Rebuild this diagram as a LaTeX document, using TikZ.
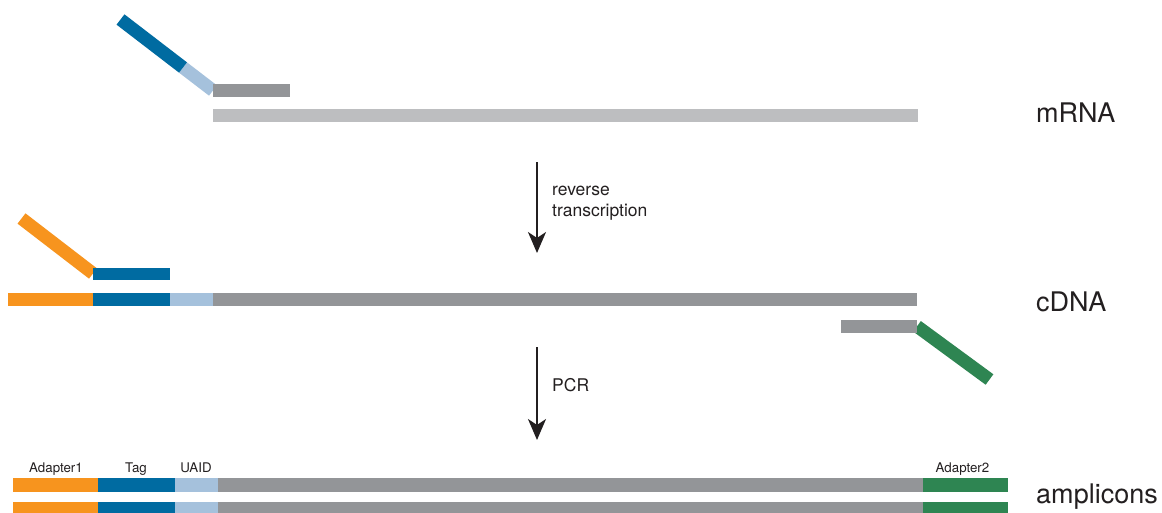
\documentclass[tikz,border=0pt]{standalone}
\usepackage{fontspec}
\setmainfont{TeX Gyre Heros}
\usetikzlibrary{arrows.meta}
\definecolor{cdblue}{HTML}{006BA1}
\definecolor{clblue}{HTML}{A5C1DC}
\definecolor{cgray}{HTML}{939598}
\definecolor{clgray}{HTML}{BDBEC0}
\definecolor{corange}{HTML}{F7941E}
\definecolor{cgreen}{HTML}{2E8552}
\definecolor{ctext}{HTML}{231F20}
\tikzset{
  bigl/.style={anchor=base west, inner sep=0pt, text=ctext, font=\fontsize{27}{32}\selectfont},
  midl/.style={anchor=base west, inner sep=0pt, text=ctext, font=\fontsize{17.5}{21}\selectfont},
  smalll/.style={anchor=base, inner sep=0pt, text=ctext, font=\fontsize{13.3}{16}\selectfont},
  diag/.style={line width=13pt, line cap=butt},
  steparrow/.style={line width=2pt, draw=ctext, -{Stealth[length=21pt,width=18pt,inset=6pt]}}
}
\begin{document}
\begin{tikzpicture}[x=1pt,y=-1pt]
\useasboundingbox (0,0) rectangle (1162,512);
\fill[white] (0,0) rectangle (1162,512);
% ---- mRNA row ----
\coordinate (p1j) at (213,90.5);
\coordinate (p1m) at (183,67.5);
\coordinate (p1e) at (120.5,19.5);
\draw[diag, clblue] (p1j) -- (p1m);
\draw[diag, cdblue] (p1m) -- (p1e);
\fill[cgray] (212.5,84) rectangle (289.5,97);
\fill[clgray] (212.5,109) rectangle (917.5,122);
\node[bigl] (mrna) at (1036,122.3) {mRNA};
% ---- arrow 1 ----
\coordinate (a1s) at (537,162);
\coordinate (a1e) at (537,253);
\draw[steparrow] (a1s) -- (a1e);
\node[midl] (rt1) at (552,195) {reverse};
\node[midl] (rt2) at (552,216) {transcription};
% ---- cDNA row ----
\coordinate (p2j) at (93,273.5);
\coordinate (p2e) at (21.5,218.5);
\draw[diag, corange] (p2j) -- (p2e);
\fill[cdblue] (92.7,267.5) rectangle (170,280.2);
\fill[corange] (7.7,293.3) rectangle (92.9,306);
\fill[cdblue] (92.7,293.3) rectangle (170.2,306);
\fill[clblue] (170,293.3) rectangle (212.7,306);
\fill[cgray] (212.5,293.3) rectangle (917.3,306);
\coordinate (p3j) at (917,326.3);
\coordinate (p3e) at (989.5,379.5);
\draw[diag, cgreen] (p3j) -- (p3e);
\fill[cgray] (840.7,320) rectangle (917.3,332.7);
\node[bigl] (cdna) at (1036,311.3) {cDNA};
% ---- arrow 2 ----
\coordinate (a2s) at (537,347);
\coordinate (a2e) at (537,440);
\draw[steparrow] (a2s) -- (a2e);
\node[midl] (pcr) at (552,391.7) {PCR};
% ---- amplicons ----
\foreach \yt/\yb in {478.3/491.7, 502.3/515} {
  \fill[corange] (13.3,\yt) rectangle (97.9,\yb);
  \fill[cdblue] (97.7,\yt) rectangle (175.2,\yb);
  \fill[clblue] (175,\yt) rectangle (218.5,\yb);
  \fill[cgray] (218.3,\yt) rectangle (922.9,\yb);
  \fill[cgreen] (922.7,\yt) rectangle (1007.7,\yb);
}
\node[smalll] (ad1) at (56,472.3) {Adapter1};
\node[smalll] (tag) at (136,472.3) {Tag};
\node[smalll] (uaid) at (196,472.3) {UAID};
\node[smalll] (ad2) at (962.5,472.3) {Adapter2};
\node[bigl] (amp) at (1036,503.3) {amplicons};
\end{tikzpicture}
\end{document}
